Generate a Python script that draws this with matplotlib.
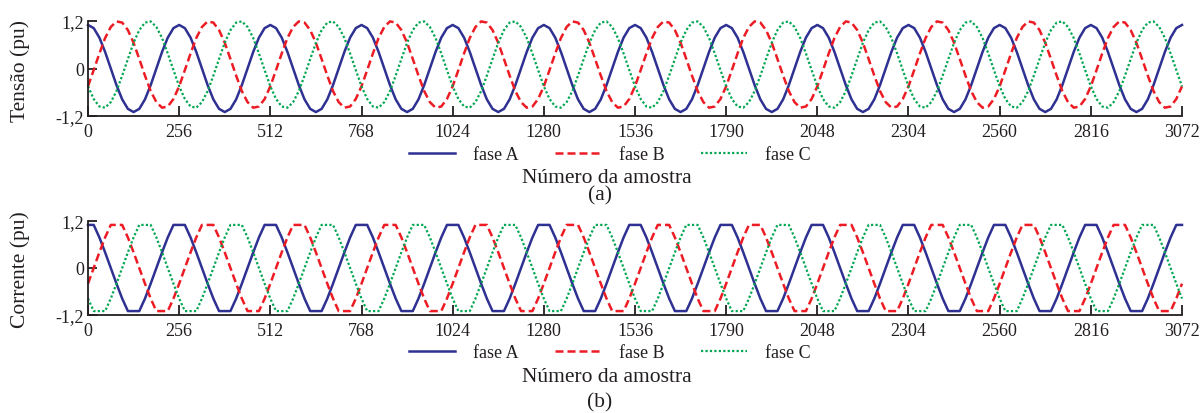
import numpy as np
import matplotlib
matplotlib.use("Agg")
import matplotlib.pyplot as plt
from matplotlib.lines import Line2D

# one cycle (256 samples), one value every 16 samples
step = 16
n_cycles = 12

# (a) tensao
va = [1.10, 1.02, 0.78, 0.42, 0.00, -0.42, -0.78, -1.02, -1.10, -1.02, -0.78, -0.42, 0.00, 0.42, 0.78, 1.02]
vb = [-0.45, -0.04, 0.38, 0.77, 1.05, 1.19, 1.16, 0.97, 0.65, 0.24, -0.18, -0.57, -0.85, -0.99, -0.96, -0.77]
vc = [-0.45, -0.77, -0.96, -0.99, -0.85, -0.57, -0.18, 0.24, 0.65, 0.97, 1.16, 1.19, 1.05, 0.77, 0.38, -0.04]

# (b) corrente
ia = [1.10, 1.10, 0.78, 0.40, 0.00, -0.40, -0.78, -1.10, -1.10, -1.10, -0.78, -0.40, 0.00, 0.40, 0.78, 1.10]
ib = [-0.40, 0.00, 0.40, 0.78, 1.10, 1.10, 1.10, 0.78, 0.40, 0.00, -0.40, -0.78, -1.10, -1.10, -1.10, -0.78]
ic = [-0.78, -1.10, -1.10, -1.10, -0.78, -0.40, 0.00, 0.40, 0.78, 1.10, 1.10, 1.10, 0.78, 0.40, 0.00, -0.40]

xticks = [0, 256, 512, 768, 1024, 1280, 1536, 1792, 2048, 2304, 2560, 2816, 3072]
xticklabels = ["0", "256", "512", "768", "1024", "1280", "1536", "1790", "2048", "2304", "2560", "2816", "3072"]
yticks = [-1.2, 0, 1.2]
yticklabels = ["-1,2", "0", "1,2"]
names = ["fase A", "fase B", "fase C"]

blue = "#2E3192"
red = "#ED1C24"
green = "#00A651"
ink = "#231F20"

plt.rcParams["font.family"] = ["Liberation Serif", "DejaVu Serif"]

W, H = 1202, 414
fig = plt.figure(figsize=(W / 100, H / 100), dpi=100)


def wave(cycle):
    y = np.tile(cycle, n_cycles)
    y = np.append(y, cycle[0])
    x = np.arange(len(y)) * step
    return x, y


styles = [
    dict(color=blue, lw=1.8, ls="-"),
    dict(color=red, lw=1.8, ls=(0, (3.2, 1.6))),
    dict(color=green, lw=1.6, ls=(0, (1, 1))),
]


def panel(top, bottom, series, ylabel, ylab_y, leg_y, xlab_y, tag, tag_y):
    ax = fig.add_axes([88 / W, 1 - bottom / H, 1094 / W, (bottom - top) / H])
    for s, st in zip(series, styles):
        x, y = wave(s)
        ax.plot(x, y, clip_on=False, **st)
    ax.set_xlim(0, 3072)
    ax.set_ylim(-1.2, 1.2)
    ax.set_xticks(xticks)
    ax.set_xticklabels(xticklabels)
    ax.set_yticks(yticks)
    ax.set_yticklabels(yticklabels)
    for sp in ["top", "right"]:
        ax.spines[sp].set_visible(False)
    for sp in ["left", "bottom"]:
        ax.spines[sp].set_color(ink)
        ax.spines[sp].set_linewidth(1.3)
    ax.tick_params(axis="x", direction="in", length=7, width=1.3, color=ink,
                   labelsize=13, labelcolor=ink, pad=5)
    ax.tick_params(axis="y", direction="in", length=6.5, width=1.3, color=ink,
                   labelsize=13, labelcolor=ink, pad=3)
    fig.text(20 / W, 1 - ylab_y / H, ylabel, rotation=90, ha="center", va="center",
             fontsize=15.5, color=ink)
    handles = [Line2D([], [], **st) for st in styles]
    fig.legend(handles, names, loc="center", bbox_to_anchor=(610 / W, 1 - leg_y / H),
               ncol=3, frameon=False, fontsize=13, handlelength=2.55,
               handletextpad=1.0, columnspacing=2.0, labelcolor=ink)
    fig.text(607 / W, 1 - xlab_y / H, "Número da amostra", ha="center", va="center",
             fontsize=15.5, color=ink)
    fig.text(600 / W, 1 - tag_y / H, tag, ha="center", va="center",
             fontsize=15.5, color=ink)
    return ax


panel(22, 117, [va, vb, vc], "Tensão (pu)", 71, 156, 179, "(a)", 196)
panel(222, 316, [ia, ib, ic], "Corrente (pu)", 270, 354, 378, "(b)", 403)

fig.savefig("out.png", dpi=100)
